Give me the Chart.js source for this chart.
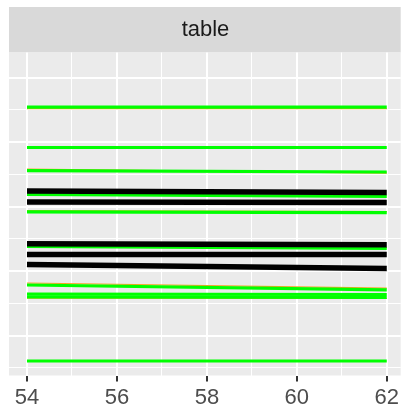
<!DOCTYPE html>
<html>
<head>
<meta charset="utf-8">
<title>table</title>
<script src="https://cdn.jsdelivr.net/npm/chart.js@4"></script>
<style>
      html, body { margin: 0; padding: 0; background: #ffffff; }
      #wrap { width: 402px; height: 414px; }
</style>
</head>
<body>
<div id="wrap"><canvas id="table_chart" width="402" height="414"></canvas></div>
<script>
// x positions shared by every line
const xValues = [54, 62];
const xTicks = [54, 55, 56, 57, 58, 59, 60, 61, 62];
const yTicks = [0.5, 1, 1.5, 2, 2.5, 3, 3.5, 4, 4.5, 5];

// value at x = 54 and at x = 62 for each line
const greenStart = [4.540, 3.915, 3.558, 3.186, 2.918, 2.380, 1.783, 1.643, 1.597, 0.605];
const greenEnd = [4.540, 3.915, 3.535, 3.155, 2.904, 2.349, 1.709, 1.636, 1.589, 0.605];
const blackStart = [3.240, 3.070, 2.422, 2.256, 2.101];
const blackEnd = [3.217, 3.062, 2.406, 2.256, 2.039];
const orangeStart = [4.519, 3.581, 2.938, 2.395, 1.814, 1.581];
const orangeEnd = [4.519, 3.517, 2.922, 2.364, 1.736, 1.574];

const stripPlugin = {
      id: 'strip',
      beforeDraw(chart)
      {
            const ctx = chart.ctx;
            const area = chart.chartArea;
            ctx.save();
            ctx.fillStyle = '#D9D9D9';
            ctx.fillRect(area.left, 7, area.right - area.left, area.top - 7);
            ctx.fillStyle = '#EBEBEB';
            ctx.fillRect(area.left, area.top, area.right - area.left, area.bottom - area.top);
            ctx.restore();
      }
};

function makeLines(starts, ends, color, width, order)
{
      const sets = [];
      for (let i = 0; i < starts.length; i++)
      {
            sets.push({
                  data: [{ x: xValues[0], y: starts[i] }, { x: xValues[1], y: ends[i] }],
                  borderColor: color,
                  borderWidth: width,
                  pointRadius: 0,
                  fill: false,
                  order: order
            });
      }
      return sets;
}

const datasets = []
      .concat(makeLines(blackStart, blackEnd, '#000000', 5.5, 0))
      .concat(makeLines(greenStart, greenEnd, '#00FF00', 3.2, 1))
      .concat(makeLines(orangeStart, orangeEnd, '#F5A623', 1.2, 2));

const config = {
      type: 'line',
      data: { datasets: datasets },
      options: {
            responsive: false,
            animation: false,
            layout: { padding: { left: 9, right: 0, top: 7, bottom: 0 } },
            scales: {
                  x: {
                        type: 'linear',
                        min: 53.6,
                        max: 62.31,
                        afterBuildTicks: (scale) => { scale.ticks = xTicks.map(v => ({ value: v })); },
                        afterFit: (scale) => { scale.height = 414 - 375.5; },
                        border: { display: false },
                        grid: {
                              color: '#FFFFFF',
                              lineWidth: (c) => (c.tick && c.tick.value % 2 === 0 ? 2 : 1),
                              tickColor: (c) => (c.tick && c.tick.value % 2 === 0 ? '#333333' : 'rgba(0,0,0,0)'),
                              tickLength: 6,
                              tickWidth: 2
                        },
                        ticks: {
                              autoSkip: false,
                              maxRotation: 0,
                              padding: 3,
                              color: '#4D4D4D',
                              font: { family: '"Liberation Sans", Arial, sans-serif', size: 22 },
                              callback: (v) => (v % 2 === 0 ? String(v) : '')
                        }
                  },
                  y: {
                        type: 'linear',
                        min: 0.380,
                        max: 5.388,
                        afterBuildTicks: (scale) => { scale.ticks = yTicks.map(v => ({ value: v })); },
                        afterFit: (scale) => { scale.width = 0; },
                        border: { display: false },
                        grid: {
                              color: '#FFFFFF',
                              lineWidth: (c) => (c.tick && c.tick.value % 1 === 0 ? 2 : 1),
                              drawTicks: false
                        },
                        ticks: { display: false }
                  }
            },
            plugins: {
                  legend: { display: false },
                  tooltip: { enabled: false },
                  title: {
                        display: true,
                        text: 'table',
                        color: '#1A1A1A',
                        font: { family: '"Liberation Sans", Arial, sans-serif', size: 22, weight: 'normal', lineHeight: '22px' },
                        padding: { top: 12.4, bottom: 11.1 }
                  }
            }
      },
      plugins: [stripPlugin]
};

const tableChart = new Chart(document.getElementById('table_chart'), config);
</script>
</body>
</html>
